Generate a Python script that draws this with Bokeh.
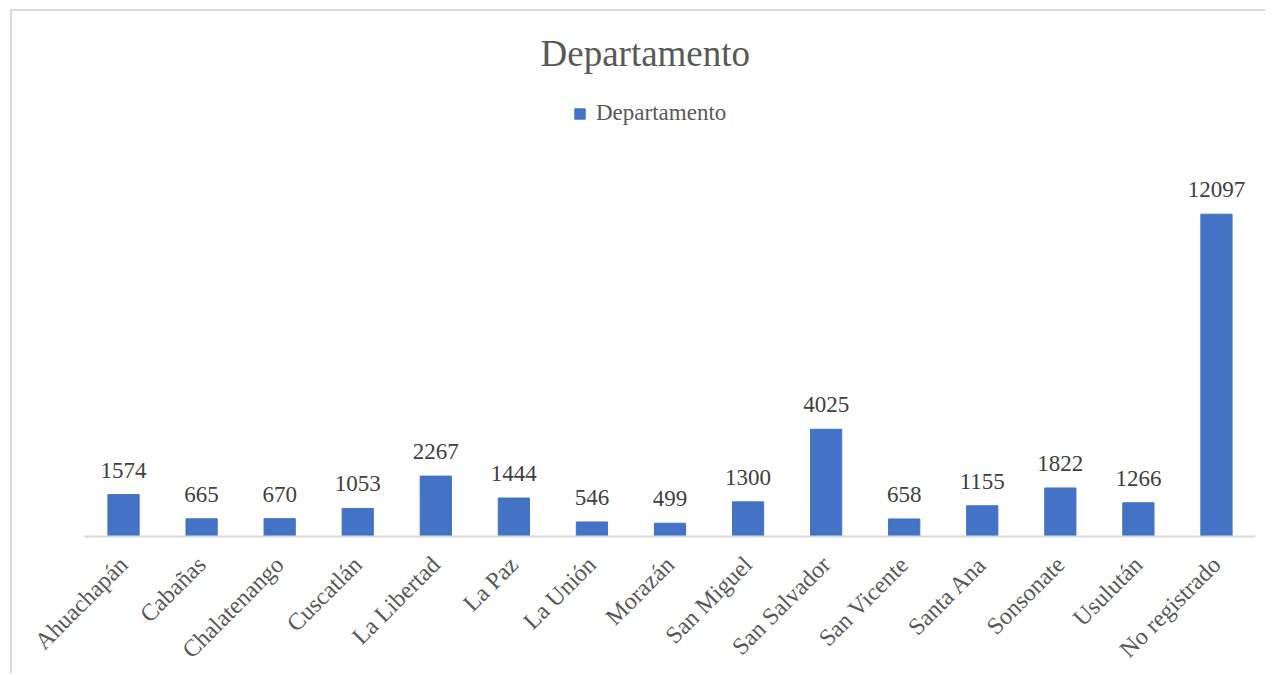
from bokeh.plotting import figure
from bokeh.models import FactorRange, Range1d, ColumnDataSource, Legend, LegendItem
from bokeh.embed import file_html
from bokeh.resources import INLINE
from bokeh.core.properties import value
import math

categories = ["Ahuachapán", "Cabañas", "Chalatenango", "Cuscatlán", "La Libertad",
              "La Paz", "La Unión", "Morazán", "San Miguel", "San Salvador",
              "San Vicente", "Santa Ana", "Sonsonate", "Usulután", "No registrado"]
values = [1574, 665, 670, 1053, 2267, 1444, 546, 499, 1300, 4025, 658, 1155, 1822, 1266, 12097]
series_name = "Departamento"
title_text = "Departamento"

FONT = "Liberation Serif"
BAR = "#4472C4"

src = ColumnDataSource(dict(cat=categories, val=values, lab=[str(v) for v in values]))

p = figure(x_range=FactorRange(*categories, range_padding=0),
           y_range=Range1d(0, 17116),
           width=1255, height=664,
           output_backend="svg", toolbar_location=None,
           min_border_left=72, min_border_right=12, min_border_top=69, min_border_bottom=138)
p.margin = (9, 0, 0, 10)
p.styles = {"border-left": "2px solid #d9d9d9", "border-top": "2px solid #d9d9d9"}

p.title.text = title_text
p.title.text_font = FONT
p.title.text_font_size = "37px"
p.title.text_font_style = "normal"
p.title.text_color = "#595959"
p.title.align = "left"
p.title.offset = 456
p.title.standoff = 14

r = p.vbar(x="cat", top="val", width=0.4, source=src, fill_color=BAR, line_color=BAR)

p.text(x="cat", y="val", text="lab", source=src, text_font=value(FONT),
       text_font_size="23px", text_color="#404040", text_align="center",
       text_baseline="bottom", y_offset=-17)

legend = Legend(items=[LegendItem(label=series_name, renderers=[r])],
                location=(489, 410), orientation="horizontal",
                glyph_width=13, glyph_height=13, label_standoff=10,
                label_text_font=FONT, label_text_font_size="23px", label_text_color="#595959",
                background_fill_alpha=0, border_line_alpha=0, padding=0, margin=0, spacing=0)
p.add_layout(legend, "center")

p.yaxis.visible = False
p.xgrid.grid_line_color = None
p.ygrid.grid_line_color = None
p.outline_line_color = None

ax = p.xaxis[0]
ax.axis_line_color = "#d9d9d9"
ax.axis_line_width = 2
ax.major_tick_line_color = None
ax.minor_tick_line_color = None
ax.major_label_orientation = math.pi / 4
ax.major_label_text_font = FONT
ax.major_label_text_font_size = "24px"
ax.major_label_text_color = "#595959"
ax.major_label_standoff = 18

open("out.html", "w").write(file_html(p, INLINE))
